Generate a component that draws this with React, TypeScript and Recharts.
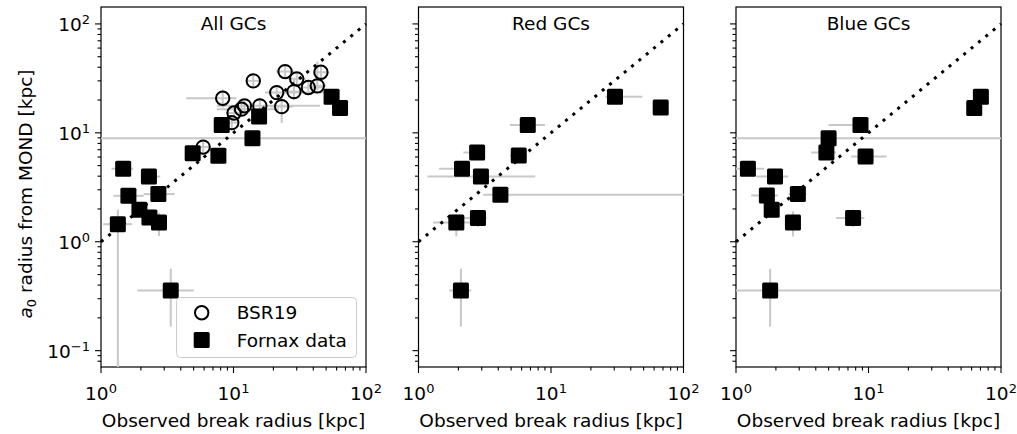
import React from "react";
import { ScatterChart, Scatter, XAxis, YAxis, ErrorBar, ReferenceLine, Customized } from "recharts";

const W = 1017;
const H = 434;
const TOP = 7;
const BOTTOM = 367;
const PW = 265;
const FONT = "'DejaVu Sans', sans-serif";
const FS = 18.5;
const GREY = "#c8c8c8";
const Y_DOMAIN = [0.0708, 143];

// log tick positions
const xTicks = [1, 2, 3, 4, 5, 6, 7, 8, 9, 10, 20, 30, 40, 50, 60, 70, 80, 90, 100];
const yTicks = [0.08, 0.09, 0.1, 0.2, 0.3, 0.4, 0.5, 0.6, 0.7, 0.8, 0.9, 1, 2, 3, 4, 5, 6, 7, 8, 9, 10, 20, 30, 40, 50, 60, 70, 80, 90, 100];
const oneToOne = [1, 100];

// BSR19 (all GCs panel only)
const bsrX = [5.9, 8.29, 9.7, 10.1, 11.5, 12.1, 14.1, 15.8, 21.2, 23.1, 24.5, 28.6, 30.0, 36.7, 42.9, 45.7];
const bsrY = [7.4, 20.8, 12.4, 15.2, 16.5, 17.7, 30.0, 17.7, 23.4, 17.4, 36.5, 23.9, 31.3, 26.1, 27.0, 36.0];
const bsrXB = [[5.2, 6.7], [4.4, 10.5], [8.5, 11], [8.8, 11.6], [7.5, 22], [10.5, 14], [12.5, 16], [7.5, 45], [17.3, 52], [19, 28], [21, 28.5], [25, 33], [26, 35], [33, 48], [37, 50], [40, 52]];
const bsrYB = [[6.6, 8.3], [17, 25], [10.8, 14.2], [13.2, 17.5], [14.3, 19], [15.4, 20.4], [26, 35], [15, 21], [20, 27.5], [12.3, 23], [31.5, 42], [20, 32], [27, 36], [22.5, 30], [24.5, 45], [31, 42]];

// Fornax data, all GCs
const allX = [1.34, 1.47, 1.61, 1.95, 2.30, 2.32, 2.71, 2.74, 3.36, 4.92, 7.69, 8.15, 13.9, 15.6, 55.0, 63.7];
const allY = [1.45, 4.68, 2.64, 1.97, 3.97, 1.67, 2.74, 1.50, 0.357, 6.5, 6.15, 11.8, 8.93, 14.1, 21.5, 16.9];
const allXB = [[1.04, 1.72], [1.2, 1.75], [1.24, 2.1], [1.75, 2.2], [2.0, 2.8], [2.15, 2.5], [2.1, 3.6], [2.55, 2.95], [1.88, 5.0], [4.4, 5.5], [7.0, 8.4], [7.3, 9.1], [1, 100], [14, 17.5], [52, 58], [61, 66]];
const allYB = [[0.0708, 1.97], [4.2, 5.2], [2.4, 2.9], [1.8, 2.15], [3.6, 4.4], [1.5, 1.85], [2.4, 3.0], [1.13, 1.85], [0.166, 0.565], [5.9, 7.1], [5.6, 6.8], [10.7, 13], [8.1, 9.8], [12.8, 15.5], [19.5, 23.5], [15.3, 18.6]];

// Fornax data, red GCs
const redX = [1.93, 2.09, 2.13, 2.77, 2.81, 2.96, 4.15, 5.71, 6.68, 30.4, 67.3];
const redY = [1.50, 0.357, 4.68, 6.6, 1.65, 3.97, 2.70, 6.2, 11.8, 21.5, 17.1];
const redXB = [[1.29, 2.5], [1.7, 2.5], [1.43, 2.37], [2.18, 3.18], [2.11, 3.27], [1.17, 7.6], [3.08, 100], [4.9, 6.6], [4.9, 9.0], [25.7, 48.9], [64, 71]];
const redYB = [[1.12, 1.8], [0.166, 0.565], [4.2, 5.2], [5.9, 7.3], [1.37, 1.97], [3.55, 4.4], [2.4, 3.0], [5.6, 6.8], [10.6, 13], [19.5, 23.5], [15.5, 18.8]];

// Fornax data, blue GCs
const blueX = [1.23, 1.71, 1.81, 1.86, 1.97, 2.69, 2.93, 4.81, 5.0, 7.65, 8.7, 9.5, 62.8, 70.5];
const blueY = [4.68, 2.66, 0.357, 1.97, 3.97, 1.50, 2.74, 6.6, 8.93, 1.65, 11.8, 6.07, 16.9, 21.5];
const blueXB = [[1.0, 1.63], [1.3, 2.07], [1, 100], [1.65, 2.1], [1.42, 2.48], [2.45, 2.95], [2.5, 3.4], [3.7, 5.7], [1, 100], [5.7, 9.3], [5.0, 9.8], [7.4, 13.7], [60, 66], [67, 74]];
const blueYB = [[4.2, 5.2], [2.4, 2.95], [0.166, 0.565], [1.8, 2.15], [3.6, 4.4], [1.12, 1.9], [2.45, 3.05], [5.9, 7.3], [8.1, 9.8], [1.37, 1.97], [10.6, 13], [5.5, 6.7], [15.3, 18.6], [19.5, 23.5]];

const rows = (xs: number[], ys: number[], xb: number[][], yb: number[][]) =>
  xs.map((x, i) => ({
    x,
    y: ys[i],
    ex: [x - xb[i][0], xb[i][1] - x],
    ey: [ys[i] - yb[i][0], yb[i][1] - ys[i]],
  }));

const bsr = rows(bsrX, bsrY, bsrXB, bsrYB);
const allGC = rows(allX, allY, allXB, allYB);
const redGC = rows(redX, redY, redXB, redYB);
const blueGC = rows(blueX, blueY, blueXB, blueYB);

const isMajor = (v: number) => Math.abs(Math.log10(v) - Math.round(Math.log10(v))) < 1e-9;
const expText = (v: number) => {
  const e = Math.round(Math.log10(v));
  return e < 0 ? `\u2212${-e}` : `${e}`;
};

function XTick({ x, y, payload }: any) {
  const v = payload.value;
  const major = isMajor(v);
  return (
    <g>
      <line x1={x} y1={y} x2={x} y2={y + (major ? 6 : 3.5)} stroke="#000" strokeWidth={1.1} />
      {major && (
        <text x={x} y={y + 33} textAnchor="middle" fontFamily={FONT} fontSize={FS} fill="#000">
          10<tspan dy={-7} fontSize={13}>{expText(v)}</tspan>
        </text>
      )}
    </g>
  );
}

function YTick({ x, y, payload, showLabel }: any) {
  const v = payload.value;
  const major = isMajor(v);
  return (
    <g>
      <line x1={x - (major ? 6 : 3.5)} y1={y} x2={x} y2={y} stroke="#000" strokeWidth={1.1} />
      {major && showLabel && (
        <text x={x - 11} y={y + 7} textAnchor="end" fontFamily={FONT} fontSize={FS} fill="#000">
          10<tspan dy={-7} fontSize={13}>{expText(v)}</tspan>
        </text>
      )}
    </g>
  );
}

const squareShape = (p: any) => (
  <rect x={p.cx - 8} y={p.cy - 8} width={16} height={16} rx={1.5} fill="#000" />
);
const circleShape = (p: any) => (
  <circle cx={p.cx} cy={p.cy} r={6.7} fill="none" stroke="#000" strokeWidth={2} />
);

function Panel({ left, title, data, withBsr, showY }: any) {
  const cx = left + PW / 2;
  return (
    <div style={{ position: "absolute", left: 0, top: 0 }}>
      <ScatterChart width={W} height={H} margin={{ top: TOP, bottom: H - BOTTOM - 1, left: left - 1, right: W - left - PW }}>
        <XAxis type="number" dataKey="x" scale="log" domain={[1, 100]} allowDataOverflow ticks={xTicks}
          interval={0} height={1} tickSize={0} tickMargin={0} axisLine={false} tickLine={false}
          tick={(p: any) => <XTick {...p} />} />
        <YAxis type="number" dataKey="y" scale="log" domain={Y_DOMAIN} allowDataOverflow ticks={yTicks}
          interval={0} width={1} tickSize={0} tickMargin={0} axisLine={false} tickLine={false}
          tick={(p: any) => <YTick {...p} showLabel={showY} />} />
        {withBsr && (
          <Scatter data={bsr} shape={circleShape} isAnimationActive={false}>
            <ErrorBar dataKey="ex" direction="x" width={0} stroke={GREY} strokeWidth={2} isAnimationActive={false} />
            <ErrorBar dataKey="ey" direction="y" width={0} stroke={GREY} strokeWidth={2} isAnimationActive={false} />
          </Scatter>
        )}
        <Scatter data={data} shape={squareShape} isAnimationActive={false}>
          <ErrorBar dataKey="ex" direction="x" width={0} stroke={GREY} strokeWidth={2} isAnimationActive={false} />
          <ErrorBar dataKey="ey" direction="y" width={0} stroke={GREY} strokeWidth={2} isAnimationActive={false} />
        </Scatter>
        <ReferenceLine
          segment={[{ x: oneToOne[0], y: oneToOne[0] }, { x: oneToOne[1], y: oneToOne[1] }]}
          stroke="#000" strokeWidth={3} strokeDasharray="3 6.5" />
        <Customized
          component={() => (
            <g fontFamily={FONT} fill="#000">
              <rect x={left} y={TOP} width={PW} height={BOTTOM - TOP} fill="none" stroke="#000" strokeWidth={1.2} />
              <text x={cx} y={30} textAnchor="middle" fontSize={FS}>{title}</text>
              <text x={cx} y={427} textAnchor="middle" fontSize={FS}>Observed break radius [kpc]</text>
              {showY && (
                <text x={32} y={194} textAnchor="middle" fontSize={FS} transform="rotate(-90 32 194)">
                  <tspan fontStyle="italic">a</tspan>
                  <tspan dy={4} fontSize={13}>0</tspan>
                  <tspan dy={-4}> radius from MOND [kpc]</tspan>
                </text>
              )}
            </g>
          )}
        />
      </ScatterChart>
    </div>
  );
}

function LegendBox() {
  return (
    <svg width={W} height={H} style={{ position: "absolute", left: 0, top: 0, pointerEvents: "none" }}>
      <rect x={176.5} y={297.5} width={180} height={60} rx={4} fill="#fff" fillOpacity={0.8} stroke="#cccccc" strokeWidth={1} />
      <circle cx={201.7} cy={312.7} r={6.7} fill="none" stroke="#000" strokeWidth={2} />
      <rect x={193.7} y={332} width={16} height={16} rx={1.5} fill="#000" />
      <text x={236.7} y={319.3} fontFamily={FONT} fontSize={FS} fill="#000">BSR19</text>
      <text x={236.7} y={346.7} fontFamily={FONT} fontSize={FS} fill="#000">Fornax data</text>
    </svg>
  );
}

export default function App() {
  return (
    <div style={{ position: "absolute", left: 0, top: 0, width: W, height: H, background: "#fff" }}>
      <Panel left={101} title="All GCs" data={allGC} withBsr showY />
      <Panel left={418.5} title="Red GCs" data={redGC} withBsr={false} showY={false} />
      <Panel left={736} title="Blue GCs" data={blueGC} withBsr={false} showY={false} />
      <LegendBox />
    </div>
  );
}
